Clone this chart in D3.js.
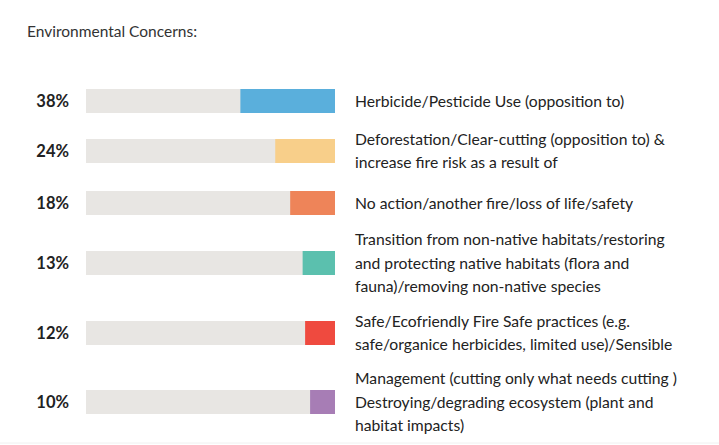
<!DOCTYPE html>
<html>
<head>
<meta charset="utf-8">
<script src="https://cdn.jsdelivr.net/npm/d3@7"></script>
<style>
  body { margin: 0; background: #fff; }
  svg { display: block; font-family: Lato, "Open Sans", sans-serif; }
</style>
</head>
<body>
<div id="chart"></div>
<script>
// values
var categories = [
  ["Herbicide/Pesticide Use (opposition to)"],
  ["Deforestation/Clear-cutting (opposition to) &", "increase fire risk as a result of"],
  ["No action/another fire/loss of life/safety"],
  ["Transition from non-native habitats/restoring", "and protecting native habitats (flora and", "fauna)/removing non-native species"],
  ["Safe/Ecofriendly Fire Safe practices (e.g.", "safe/organice herbicides, limited use)/Sensible"],
  ["Management (cutting only what needs cutting )", "Destroying/degrading ecosystem (plant and", "habitat impacts)"]
]
var values = [38, 24, 18, 13, 12, 10]
var colors = ["#5aafdc", "#f8cf8a", "#ee8459", "#5bc0ae", "#ef4a3f", "#a77db5"]
var rowCenters = [101, 151, 203, 263, 333, 402]

var width = 719, height = 445

var svg = d3.select("#chart")
  .append("svg")
    .attr("width", width)
    .attr("height", height)

// title
svg.append("text")
  .attr("x", 27)
  .attr("y", 37)
  .text("Environmental Concerns:")
  .style("font-size", "15.5px")
  .style("fill", "#333")

// x scale: full gray track = 100%
var x = d3.scaleLinear()
  .domain([0, 100])
  .range([86, 335])

var barH = 24

var rows = svg.selectAll("g.row")
  .data(values)
  .enter()
  .append("g")
    .attr("class", "row")
    .attr("transform", function(d, i) { return "translate(0," + rowCenters[i] + ")"; })

// gray track
rows.append("rect")
  .attr("x", x(0))
  .attr("y", -barH / 2)
  .attr("width", x(100) - x(0))
  .attr("height", barH)
  .style("fill", "#e8e6e3")

// coloured part, aligned to the right end
rows.append("rect")
  .attr("x", function(d) { return x(100) - (x(d) - x(0)); })
  .attr("y", -barH / 2)
  .attr("width", function(d) { return x(d) - x(0); })
  .attr("height", barH)
  .style("fill", function(d, i) { return colors[i]; })

// percent labels
rows.append("text")
  .attr("x", 69)
  .attr("y", 0)
  .attr("dy", "0.36em")
  .attr("text-anchor", "end")
  .text(function(d) { return d + "%"; })
  .style("font-size", "16.5px")
  .style("font-weight", "bold")
  .style("fill", "#222")

// category labels, multi line
var lineH = 23.5
rows.append("text")
  .attr("x", 355)
  .style("font-size", "15.7px")
  .style("fill", "#222")
  .each(function(d, i) {
    var lines = categories[i]
    var t = d3.select(this)
    lines.forEach(function(l, j) {
      t.append("tspan")
        .attr("x", 355)
        .attr("y", (j - (lines.length - 1) / 2) * lineH)
        .attr("dy", "0.36em")
        .text(l)
    })
  })

// faint bottom edge
svg.append("line")
  .attr("x1", 0).attr("x2", width)
  .attr("y1", 443).attr("y2", 443)
  .style("stroke", "#f0f0f0")
</script>
</body>
</html>
